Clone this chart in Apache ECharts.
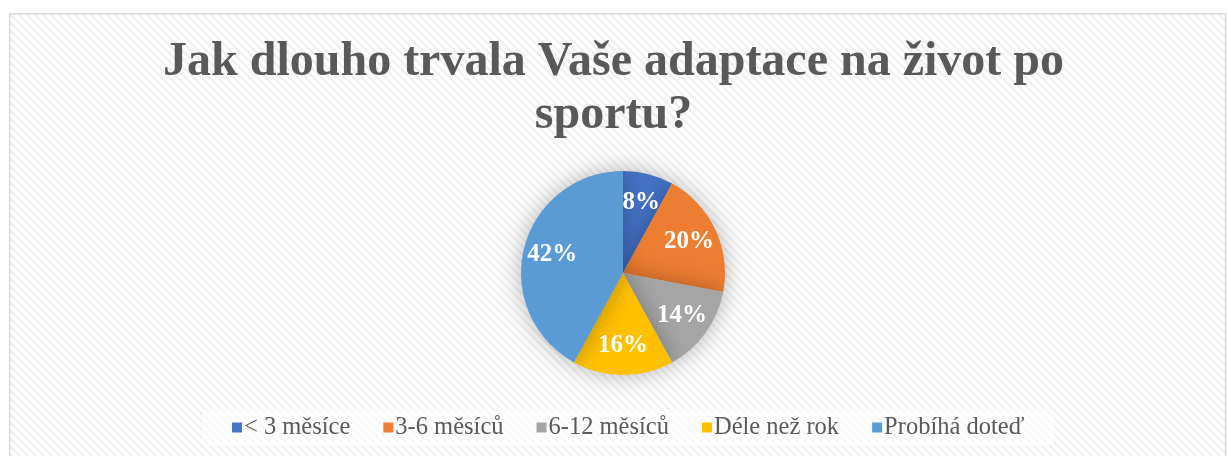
<!DOCTYPE html>
<html lang="cs">
<head>
<meta charset="UTF-8">
<title>Adaptace</title>
<script src="https://cdn.jsdelivr.net/npm/echarts@6/dist/echarts.min.js"></script>
<style>
  html, body { margin: 0; padding: 0; background: #fff; }
  #chart { width: 1227px; height: 456px; }
</style>
</head>
<body>
<div id="chart"></div>
<script>
var titleText = 'Jak dlouho trvala Vaše adaptace na život po\nsportu?';
var categories = ['< 3 měsíce', '3-6 měsíců', '6-12 měsíců', 'Déle než rok', 'Probíhá doteď'];
var values = [8, 20, 14, 16, 42];
var colors = ['#4472c4', '#ed7d31', '#a5a5a5', '#ffc000', '#5b9bd5'];

// diagonal stripe background
function stripes() {
    var c = document.createElement('canvas');
    c.width = 8; c.height = 8;
    var g = c.getContext('2d');
    g.fillStyle = '#ffffff';
    g.fillRect(0, 0, 8, 8);
    g.strokeStyle = '#efefef';
    g.lineWidth = 2.5;
    g.beginPath();
    g.moveTo(-2, -2); g.lineTo(10, 10);
    g.moveTo(-6, 2); g.lineTo(2, 10);
    g.moveTo(6, -2); g.lineTo(14, 6);
    g.stroke();
    return c;
}

var pieData = categories.map(function (name, i) {
    return { name: name, value: values[i] };
});

var myChart = echarts.init(document.getElementById('chart'));
myChart.setOption({
    animation: false,
    backgroundColor: '#fff',
    color: colors,
    graphic: [{
        type: 'rect',
        left: 9, top: 13,
        shape: { width: 1216, height: 450 },
        style: { fill: { image: stripes(), repeat: 'repeat' }, stroke: '#d9d9d9', lineWidth: 1.5 },
        silent: true,
        z: -10
    }],
    title: {
        text: titleText,
        left: 'center',
        top: 31,
        textStyle: {
            fontFamily: 'Liberation Serif',
            fontWeight: 'bold',
            fontSize: 48,
            lineHeight: 53,
            color: '#595959'
        }
    },
    legend: {
        bottom: 10,
        left: 202,
        itemWidth: 10,
        itemHeight: 10,
        itemGap: 33,
        icon: 'rect',
        backgroundColor: 'rgba(255,255,255,0.6)',
        padding: [6, 30],
        textStyle: {
            fontFamily: 'Liberation Serif',
            fontSize: 24.5,
            color: '#595959',
            padding: [0, 0, 0, -3]
        },
        data: categories
    },
    series: [{
        type: 'pie',
        center: [623, 273],
        radius: 102,
        startAngle: 90,
        clockwise: true,
        label: { show: false },
        labelLine: { show: false },
        itemStyle: {
            shadowBlur: 22,
            shadowColor: 'rgba(0,0,0,0.28)'
        },
        data: pieData
    }, {
        // label-only ring so the percentages sit further out, as in the original
        type: 'pie',
        center: [623, 273],
        radius: [38, 102],
        startAngle: 90,
        clockwise: true,
        silent: true,
        z: 3,
        itemStyle: { color: 'rgba(0,0,0,0)' },
        label: {
            position: 'inside',
            formatter: '{c}%',
            fontFamily: 'Liberation Serif',
            fontWeight: 'bold',
            fontSize: 25,
            color: '#fff'
        },
        labelLine: { show: false },
        data: pieData
    }]
});
</script>
</body>
</html>
